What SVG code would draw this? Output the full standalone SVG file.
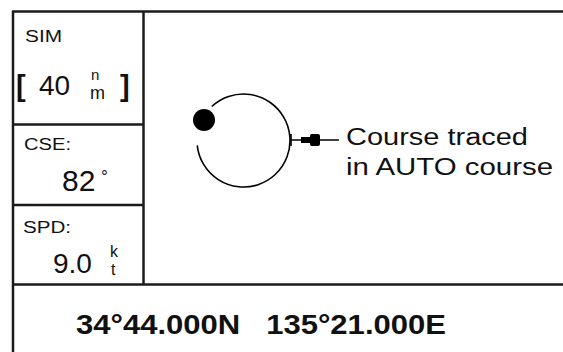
<svg xmlns="http://www.w3.org/2000/svg" width="563" height="352" viewBox="0 0 563 352">
  <style>
    .frame { stroke: #1a1a1a; stroke-width: 2.5; fill: none; }
    .txt { font-family: "Liberation Sans", Arial, sans-serif; fill: #111; }
    .ink { stroke: #000; stroke-width: 1.6; fill: none; }
  </style>
  <rect width="563" height="352" fill="#fff"/>

  <!-- display frame -->
  <g id="frame" class="frame">
    <line x1="12" y1="11.5" x2="563" y2="11.5"/>
    <line x1="13" y1="11" x2="13" y2="352"/>
    <line x1="143.5" y1="11" x2="143.5" y2="284.5"/>
    <line x1="13" y1="124.5" x2="143.5" y2="124.5"/>
    <line x1="13" y1="205" x2="143.5" y2="205"/>
    <line x1="13" y1="284.5" x2="563" y2="284.5"/>
  </g>

  <!-- mode / range cell -->
  <g id="sim-cell" class="txt">
    <text x="25" y="42" font-size="16" textLength="37" lengthAdjust="spacingAndGlyphs">SIM</text>
    <text x="16" y="96" font-size="29" font-weight="bold">[</text>
    <text x="39" y="95" font-size="28">40</text>
    <text x="91" y="80" font-size="15">n</text>
    <text x="90" y="99" font-size="18">m</text>
    <text x="120" y="96" font-size="29" font-weight="bold">]</text>
  </g>

  <!-- course cell -->
  <g id="cse-cell" class="txt">
    <text x="24" y="150" font-size="16" textLength="47" lengthAdjust="spacingAndGlyphs">CSE:</text>
    <text x="62" y="191" font-size="30">82</text>
    <text x="101" y="182" font-size="17">°</text>
  </g>

  <!-- speed cell -->
  <g id="spd-cell" class="txt">
    <text x="23" y="233" font-size="16" textLength="48" lengthAdjust="spacingAndGlyphs">SPD:</text>
    <text x="53" y="273" font-size="28">9.0</text>
    <text x="110" y="257" font-size="16">k</text>
    <text x="111" y="275" font-size="16">t</text>
  </g>

  <!-- position readout -->
  <g id="position" class="txt">
    <text x="76" y="334" font-size="27" font-weight="bold" textLength="370" lengthAdjust="spacingAndGlyphs" xml:space="preserve">34°44.000N   135°21.000E</text>
  </g>

  <!-- traced course -->
  <g id="course-trace">
    <path class="ink" d="M197.25 145.36 A46.5 46.5 0 1 0 211.8 106.5"/>
    <circle cx="204" cy="120" r="11" fill="#000"/>
  </g>

  <!-- callout -->
  <g id="connectors">
    <line class="ink" x1="291" y1="134" x2="291" y2="146"/>
    <line class="ink" x1="291" y1="140" x2="339" y2="140"/>
    <rect x="301" y="137" width="10" height="6" fill="#000"/>
    <rect x="310" y="134" width="10" height="12" rx="2" fill="#000"/>
  </g>

  <g id="label" class="txt">
    <text x="346" y="145" font-size="23" textLength="182" lengthAdjust="spacingAndGlyphs">Course traced</text>
    <text x="346" y="175" font-size="23" textLength="207" lengthAdjust="spacingAndGlyphs">in AUTO course</text>
  </g>
</svg>
